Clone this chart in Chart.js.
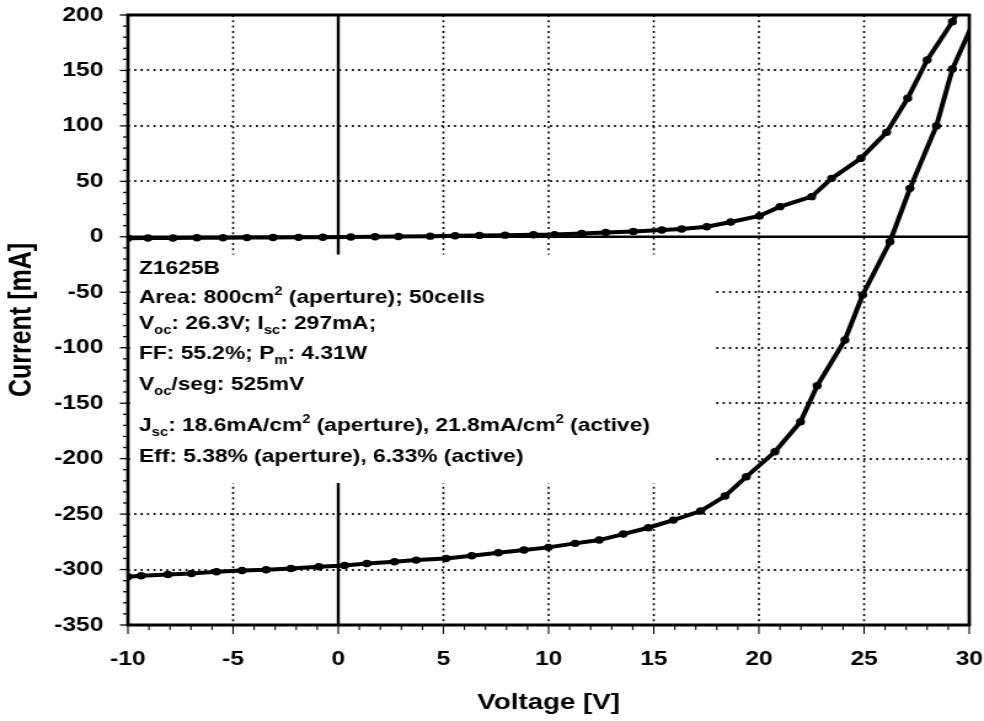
<!DOCTYPE html>
<html>
<head>
<meta charset="utf-8">
<script src="https://cdn.jsdelivr.net/npm/chart.js@4"></script>
<style>
  body { margin: 0; background: #fff; }
</style>
</head>
<body>
<!-- drawn at 800 wide and stretched to 984, like the wide-looking original -->
<canvas id="ivChart" width="800" height="721" style="display:block;width:984px;height:721px"></canvas>
<script>
// illuminated curve (V, mA)
const voltsLight = [-10, -9.37, -8.10, -6.98, -5.79, -4.58, -3.43, -2.25, -0.92, 0.30, 1.36, 2.67, 3.70, 5.13, 6.35, 7.61, 8.83,
  9.99, 11.26, 12.41, 13.55, 14.74, 15.93, 17.23, 18.39, 19.40, 20.76, 21.98, 22.77, 24.09, 24.93, 26.23, 27.18, 28.44, 29.20, 30.5];
const currentLight = [-306.5, -305.6, -304.4, -303.5, -302.0, -300.8, -300.2, -299.0, -297.5, -296.3, -294.5, -293.0, -291.5, -290.0, -287.6, -284.8, -282.4,
  -280.0, -276.4, -273.4, -268.0, -262.3, -255.4, -247.2, -233.7, -216.3, -193.8, -166.7, -134.3, -93.0, -52.5, -4.4, 43.7, 99.9, 151.3, 206];

// dark curve (V, mA)
const voltsDark = [-10, -9.05, -7.86, -6.72, -5.48, -4.34, -3.10, -1.89, -0.73, 0.60, 1.75, 2.86, 4.37, 5.56, 6.71, 7.93, 9.28,
  10.28, 11.58, 12.72, 14.03, 15.38, 16.33, 17.52, 18.66, 20.02, 21.00, 22.51, 23.46, 24.85, 26.07, 27.07, 28.00, 29.20, 29.8];
const currentDark = [-1.2, -1.1, -1.0, -0.9, -0.8, -0.7, -0.6, -0.5, -0.4, -0.2, 0.0, 0.3, 0.6, 0.9, 1.3, 1.5, 1.8,
  2.0, 3.1, 4.0, 4.9, 6.1, 7.0, 9.1, 13.3, 18.8, 27.2, 36.2, 52.7, 70.8, 94.2, 124.9, 159.4, 194.0, 215];

const xTicks = [-10, -5, 0, 5, 10, 15, 20, 25, 30];
const yTicks = [-350, -300, -250, -200, -150, -100, -50, 0, 50, 100, 150, 200];

// text box, one entry per line: [text, 'sub' | 'sup' | undefined]
const noteLines = [
  [['Z1625B']],
  [['Area: 800cm'], ['2', 'sup'], [' (aperture); 50cells']],
  [['V'], ['oc', 'sub'], [': 26.3V; I'], ['sc', 'sub'], [': 297mA;']],
  [['FF: 55.2%; P'], ['m', 'sub'], [': 4.31W']],
  [['V'], ['oc', 'sub'], ['/seg: 525mV']],
  [['J'], ['sc', 'sub'], [': 18.6mA/cm'], ['2', 'sup'], [' (aperture), 21.8mA/cm'], ['2', 'sup'], [' (active)']],
  [['Eff: 5.38% (aperture), 6.33% (active)']]
];

const FONT = '"Liberation Sans", Arial, Helvetica, sans-serif';

const toPoints = (xs, ys) => xs.map((v, i) => ({ x: v, y: ys[i] }));

const decor = {
  id: 'decor',
  beforeDatasetsDraw(chart) {
    const { ctx, chartArea: a, scales: { x, y } } = chart;
    ctx.save();
    ctx.strokeStyle = '#000';

    // dotted grid
    ctx.lineWidth = 2;
    ctx.setLineDash([1.6, 3.6]);
    yTicks.forEach(v => {
      if (v === 0 || v === yTicks[0] || v === yTicks[yTicks.length - 1]) return;
      const py = Math.round(y.getPixelForValue(v));
      ctx.beginPath(); ctx.moveTo(a.left, py); ctx.lineTo(a.right, py); ctx.stroke();
    });
    ctx.lineWidth = 1.6;
    ctx.setLineDash([2, 3.3]);
    xTicks.forEach(v => {
      if (v === 0 || v === xTicks[0] || v === xTicks[xTicks.length - 1]) return;
      const px = x.getPixelForValue(v);
      ctx.beginPath(); ctx.moveTo(px, a.top); ctx.lineTo(px, a.bottom); ctx.stroke();
    });
    ctx.setLineDash([]);

    // zero axes
    ctx.lineWidth = 2.5;
    const y0 = y.getPixelForValue(0);
    ctx.beginPath(); ctx.moveTo(a.left, y0); ctx.lineTo(a.right, y0); ctx.stroke();
    ctx.lineWidth = 2.4;
    const x0 = x.getPixelForValue(0);
    ctx.beginPath(); ctx.moveTo(x0, a.top); ctx.lineTo(x0, a.bottom); ctx.stroke();

    // white text box
    const bx1 = a.left + 5, bx2 = x.getPixelForValue(17.85);
    const by1 = y.getPixelForValue(-16), by2 = y.getPixelForValue(-222);
    ctx.fillStyle = '#fff';
    ctx.fillRect(bx1, by1, bx2 - bx1, by2 - by1);

    // text
    const baselines = [274.3, 302.7, 329, 359, 390, 430.7, 461.7];
    ctx.fillStyle = '#000';
    ctx.textBaseline = 'alphabetic';
    ctx.textAlign = 'left';
    noteLines.forEach((line, i) => {
      let tx = a.left + 9;
      line.forEach(([txt, kind]) => {
        let dy = 0;
        if (kind) {
          ctx.font = `bold 12px ${FONT}`;
          dy = kind === 'sub' ? 5 : -7.5;
        } else {
          ctx.font = `bold 18.5px ${FONT}`;
        }
        ctx.fillText(txt, tx, baselines[i] + dy);
        tx += ctx.measureText(txt).width;
      });
    });
    ctx.restore();
  },
  afterDatasetsDraw(chart) {
    const { ctx, chartArea: a, scales: { x, y } } = chart;
    ctx.save();
    ctx.strokeStyle = '#000';

    // tick marks, minor every 10 mA / 1 V
    ctx.lineWidth = 1.3;
    for (let v = -350; v <= 200; v += 10) {
      const py = y.getPixelForValue(v);
      const len = v % 50 === 0 ? 6.5 : 4;
      ctx.beginPath(); ctx.moveTo(a.left - len, py); ctx.lineTo(a.left, py); ctx.stroke();
    }
    ctx.lineWidth = 1.1;
    for (let v = -10; v <= 30; v += 1) {
      const px = x.getPixelForValue(v);
      const len = v % 5 === 0 ? 9 : 5;
      ctx.beginPath(); ctx.moveTo(px, a.bottom); ctx.lineTo(px, a.bottom + len); ctx.stroke();
    }

    // frame
    ctx.lineWidth = 3;
    ctx.beginPath();
    ctx.moveTo(a.left - 1.3, a.top); ctx.lineTo(a.right + 1.3, a.top);
    ctx.moveTo(a.left - 1.3, a.bottom); ctx.lineTo(a.right + 1.3, a.bottom);
    ctx.stroke();
    ctx.lineWidth = 2.7;
    ctx.beginPath();
    ctx.moveTo(a.left, a.top); ctx.lineTo(a.left, a.bottom);
    ctx.moveTo(a.right, a.top); ctx.lineTo(a.right, a.bottom);
    ctx.stroke();
    ctx.restore();
  }
};

const lineStyle = {
  borderColor: '#000',
  backgroundColor: '#000',
  borderWidth: 4,
  pointRadius: 3.7,
  pointBorderWidth: 0,
  pointBackgroundColor: '#000',
  tension: 0,
  clip: 0
};

new Chart(document.getElementById('ivChart'), {
  type: 'line',
  data: {
    datasets: [
      { label: 'light', data: toPoints(voltsLight, currentLight), ...lineStyle },
      { label: 'dark', data: toPoints(voltsDark, currentDark), ...lineStyle }
    ]
  },
  options: {
    responsive: false,
    devicePixelRatio: 1,
    animation: false,
    layout: { padding: { top: 15, right: 12, bottom: 0, left: 0 } },
    plugins: { legend: { display: false }, tooltip: { enabled: false } },
    scales: {
      x: {
        type: 'linear',
        position: 'bottom',
        min: -10,
        max: 30,
        afterBuildTicks: s => { s.ticks = xTicks.map(v => ({ value: v })); },
        afterFit: s => { s.height = 96; s.paddingLeft = 0; s.paddingRight = 0; },
        grid: { display: false, drawTicks: false },
        border: { display: false },
        ticks: { color: '#000', padding: 22, maxRotation: 0, autoSkip: false,
          font: { family: FONT, size: 20, weight: 'bold' } },
        title: { display: true, text: 'Voltage [V]', color: '#000',
          padding: { top: 0, bottom: 5 },
          font: { family: FONT, size: 22.5, weight: 'bold' } }
      },
      y: {
        type: 'linear',
        min: -350,
        max: 200,
        afterBuildTicks: s => { s.ticks = yTicks.map(v => ({ value: v })); },
        afterFit: s => { s.width = 104; s.paddingTop = 0; s.paddingBottom = 0; },
        grid: { display: false, drawTicks: false },
        border: { display: false },
        ticks: { color: '#000', padding: 20, autoSkip: false,
          font: { family: FONT, size: 20, weight: 'bold' } },
        title: { display: true, text: 'Current [mA]', color: '#000',
          padding: { top: 3, bottom: 0 },
          font: { family: FONT, size: 25, weight: 'bold' } }
      }
    }
  },
  plugins: [decor]
});
</script>
</body>
</html>
